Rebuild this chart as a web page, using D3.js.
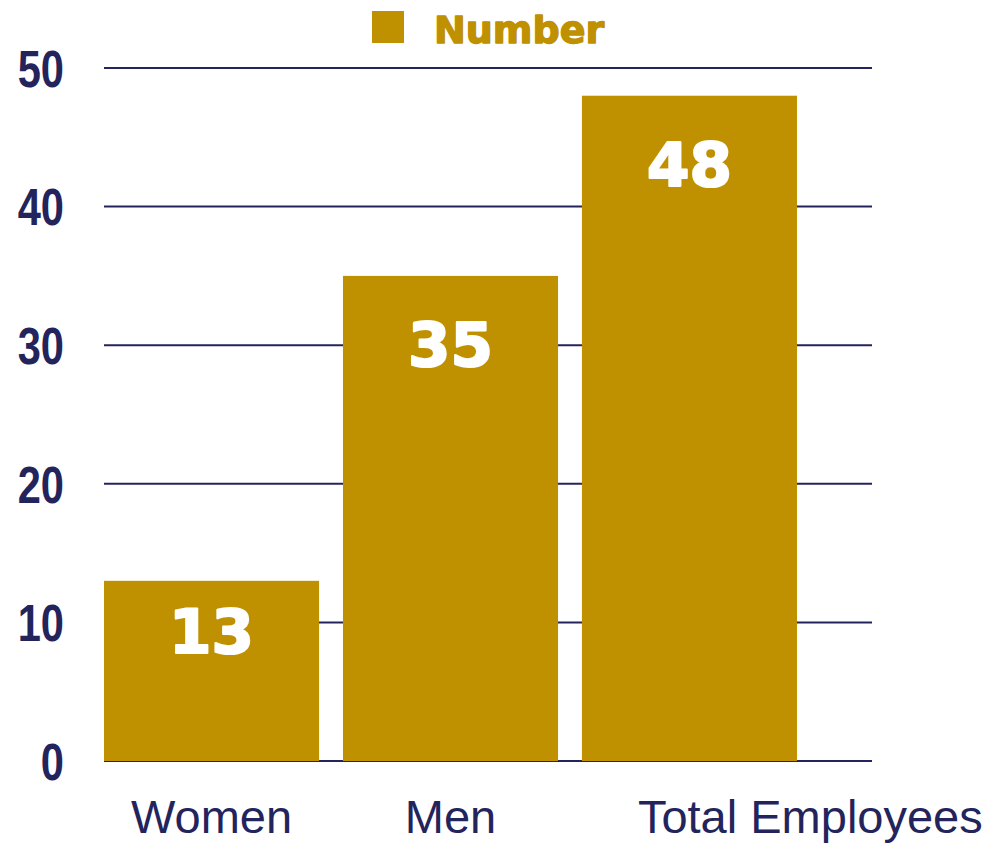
<!DOCTYPE html>
<html>
<head>
<meta charset="utf-8">
<script src="https://cdn.jsdelivr.net/npm/d3@7"></script>
<style>
  html, body { margin: 0; padding: 0; background: #ffffff; }
  svg { display: block; }
</style>
</head>
<body>
<svg id="chart" width="993" height="844"></svg>
<script>
// Headcount by group
const categories = ["Women", "Men", "Total Employees"];
const values = [13, 35, 48];
const seriesName = "Number";
const yTicks = [0, 10, 20, 30, 40, 50];

const gold = "#bf9000";
const navy = "#24245c";

const svg = d3.select("#chart");

const plot = { left: 104, right: 872, top: 68, bottom: 761 };

const x = d3.scaleBand()
  .domain(categories)
  .range([plot.left, 797])
  .paddingInner(0.1)
  .paddingOuter(0);

const y = d3.scaleLinear()
  .domain([0, 50])
  .range([plot.bottom, plot.top]);

// Horizontal gridlines (including the zero line)
svg.append("g")
  .selectAll("line")
  .data(yTicks)
  .join("line")
  .attr("x1", plot.left)
  .attr("x2", plot.right)
  .attr("y1", d => y(d))
  .attr("y2", d => y(d))
  .attr("stroke", navy)
  .attr("stroke-width", 2);

// Y tick labels, bold and horizontally condensed
svg.append("g")
  .selectAll("text")
  .data(yTicks)
  .join("text")
  .attr("transform", d => `translate(64,${y(d)}) scale(0.8,1)`)
  .attr("dy", "0.36em")
  .attr("text-anchor", "end")
  .attr("font-family", "'Liberation Sans', Arial, sans-serif")
  .attr("font-weight", "bold")
  .attr("font-size", 52)
  .attr("fill", navy)
  .text(d => d);

// Bars
svg.append("g")
  .selectAll("rect")
  .data(values)
  .join("rect")
  .attr("x", (d, i) => x(categories[i]))
  .attr("y", d => y(d))
  .attr("width", x.bandwidth())
  .attr("height", d => y(0) - y(d))
  .attr("fill", gold);

// Value labels inside the top of each bar
svg.append("g")
  .selectAll("text")
  .data(values)
  .join("text")
  .attr("x", (d, i) => x(categories[i]) + x.bandwidth() / 2)
  .attr("y", d => {
    const h = y(0) - y(d);
    return y(d) + Math.min(90, h * 0.4);
  })
  .attr("text-anchor", "middle")
  .attr("font-family", "'DejaVu Sans', sans-serif")
  .attr("font-weight", "bold")
  .attr("font-size", 61)
  .attr("fill", "#ffffff")
  .attr("stroke", "#ffffff")
  .attr("stroke-width", 2.2)
  .attr("stroke-linejoin", "round")
  .text(d => d);

// Category labels below the axis; a label wider than its band starts inside the band
svg.append("g")
  .selectAll("text")
  .data(categories)
  .join("text")
  .attr("x", d => x(d) + x.bandwidth() / 2)
  .attr("y", 833)
  .attr("text-anchor", "middle")
  .attr("font-family", "'Liberation Sans', Arial, sans-serif")
  .attr("font-size", 47)
  .attr("fill", navy)
  .text(d => d)
  .each(function (d) {
    const w = this.getComputedTextLength();
    if (w > x.step()) {
      d3.select(this)
        .attr("text-anchor", "start")
        .attr("x", x(d) + 56);
    }
  });

// Legend
const legend = svg.append("g");
legend.append("rect")
  .attr("x", 372)
  .attr("y", 11)
  .attr("width", 32)
  .attr("height", 32)
  .attr("fill", gold);
legend.append("text")
  .attr("x", 434)
  .attr("y", 43)
  .attr("font-family", "'DejaVu Sans', sans-serif")
  .attr("font-weight", "bold")
  .attr("font-size", 38)
  .attr("fill", gold)
  .attr("stroke", gold)
  .attr("stroke-width", 1.4)
  .attr("stroke-linejoin", "round")
  .text(seriesName);
</script>
</body>
</html>
